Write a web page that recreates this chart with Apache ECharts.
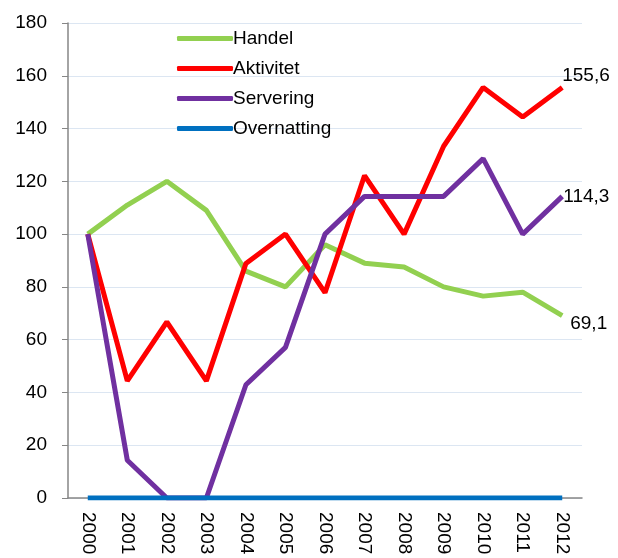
<!DOCTYPE html>
<html>
<head>
<meta charset="utf-8">
<script src="https://cdn.jsdelivr.net/npm/echarts@6/dist/echarts.min.js"></script>
<style>
  html, body { margin: 0; padding: 0; background: #fff; }
  #chart { width: 618px; height: 558px; }
</style>
</head>
<body>
<div id="chart"></div>
<script>
// kategorier (år)
var years = ['2000','2001','2002','2003','2004','2005','2006','2007','2008','2009','2010','2011','2012'];
// indeks, 2000 = 100
var handel      = [100, 111, 120, 109, 86, 80, 96, 89, 87.5, 80, 76.5, 78, 69.1];
var aktivitet   = [100, 44.4, 66.7, 44.4, 88.9, 100, 77.8, 122.2, 100, 133.3, 155.6, 144.4, 155.6];
var servering   = [100, 14.3, 0, 0, 42.9, 57.1, 100, 114.3, 114.3, 114.3, 128.6, 100, 114.3];
var overnatting = [0, 0, 0, 0, 0, 0, 0, 0, 0, 0, 0, 0, 0];
var yTicks = [0, 20, 40, 60, 80, 100, 120, 140, 160, 180];

var font = 'Liberation Sans, Arial, sans-serif';

function lineSeries(name, color, data, endOffset) {
  var s = {
    name: name,
    type: 'line',
    data: data,
    symbol: 'none',
    lineStyle: { color: color, width: 5 },
    itemStyle: { color: color },
    animation: false
  };
  // verdietikett ved siste punkt
  if (endOffset) {
    s.endLabel = {
      show: true,
      distance: 4,
      offset: endOffset,
      color: '#000',
      fontSize: 19,
      fontFamily: font,
      formatter: function (p) { return String(p.value).replace('.', ','); }
    };
  }
  return s;
}

var chart = echarts.init(document.getElementById('chart'));
chart.setOption({
  animation: false,
  grid: { left: 68, right: 36, top: 23, bottom: 60 },
  legend: {
    orient: 'vertical',
    left: 172,
    top: 24,
    icon: 'roundRect',
    itemWidth: 56,
    itemHeight: 5,
    itemGap: 11,
    textStyle: { color: '#000', fontSize: 19, fontFamily: font, padding: [0, 0, 0, -5] },
    data: ['Handel', 'Aktivitet', 'Servering', 'Overnatting']
  },
  xAxis: {
    type: 'category',
    data: years,
    boundaryGap: true,
    axisLine: { lineStyle: { color: '#868686', width: 1.5 } },
    axisTick: { show: false },
    axisLabel: { rotate: -90, color: '#000', fontSize: 19, fontFamily: font, margin: 14, interval: 0 }
  },
  yAxis: {
    type: 'value',
    min: yTicks[0],
    max: yTicks[yTicks.length - 1],
    interval: 20,
    axisLine: { show: true, lineStyle: { color: '#868686', width: 1.5 } },
    axisTick: { show: true, length: 6, lineStyle: { color: '#868686' } },
    axisLabel: { color: '#000', fontSize: 19, fontFamily: font, margin: 21 },
    splitLine: { lineStyle: { color: '#dce6f2', width: 1 } }
  },
  series: [
    lineSeries('Handel', '#92d050', handel, [4, 8]),
    lineSeries('Aktivitet', '#ff0000', aktivitet, [-4, -12]),
    lineSeries('Servering', '#7030a0', servering, [-3, 0]),
    lineSeries('Overnatting', '#0070c0', overnatting, null)
  ]
});
</script>
</body>
</html>
